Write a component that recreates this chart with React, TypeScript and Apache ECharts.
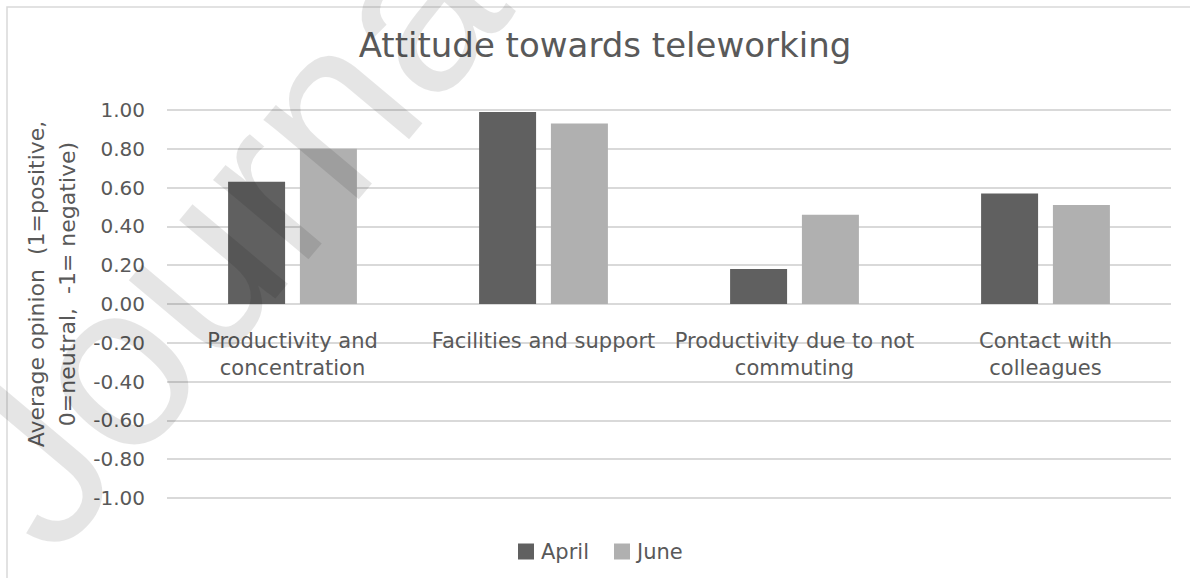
import React, { useEffect, useRef } from "react";
import * as echarts from "echarts";

const categories = [
  "Productivity and\nconcentration",
  "Facilities and support",
  "Productivity due to not\ncommuting",
  "Contact with\ncolleagues",
];
const seriesNames = ["April", "June"];
const aprilValues = [0.63, 0.99, 0.18, 0.57];
const juneValues = [0.8, 0.93, 0.46, 0.51];
const yMin = -1;
const yMax = 1;
const yStep = 0.2;
const titleText = "Attitude towards teleworking";
const yAxisTitle = "Average opinion  (1=positive,\n0=neutral,  -1= negative)";
const watermarkText = "Journal";

const FONT = "'DejaVu Sans', sans-serif";
const TEXT = "#595959";

export default function App() {
  const ref = useRef<HTMLDivElement>(null);
  useEffect(() => {
    if (!ref.current) return;
    const chart = echarts.init(ref.current, undefined, { renderer: "svg" });
    chart.setOption({
      animation: false,
      backgroundColor: "#ffffff",
      textStyle: { fontFamily: FONT },
      title: {
        text: titleText,
        left: 600,
        textAlign: "center",
        top: 23,
        textStyle: { fontFamily: FONT, fontSize: 34, fontWeight: "normal", color: TEXT },
      },
      legend: {
        data: seriesNames,
        bottom: 11,
        left: 513,
        icon: "rect",
        itemWidth: 16,
        itemHeight: 16,
        itemGap: 25,
        textStyle: { fontFamily: FONT, fontSize: 21, color: TEXT, padding: [0, 0, 0, 2] },
      },
      grid: { left: 167, right: 19, top: 110, bottom: 80, containLabel: false },
      xAxis: {
        type: "category",
        data: categories,
        axisLine: { show: false, onZero: false },
        axisTick: { show: false },
        axisLabel: {
          interval: 0,
          margin: -171,
          color: TEXT,
          fontFamily: FONT,
          fontSize: 21,
          lineHeight: 27,
          align: "center",
          verticalAlign: "top",
        },
      },
      yAxis: {
        type: "value",
        min: yMin,
        max: yMax,
        interval: yStep,
        axisLine: { show: false },
        axisTick: { show: false },
        splitLine: { lineStyle: { color: "#d9d9d9", width: 2 } },
        axisLabel: {
          margin: 22,
          color: TEXT,
          fontFamily: FONT,
          fontSize: 20,
          formatter: (v: number) => v.toFixed(2),
        },
      },
      series: [
        {
          name: seriesNames[0],
          type: "bar",
          data: aprilValues,
          barWidth: 57,
          barGap: "26%",
          itemStyle: { color: "#606060" },
        },
        {
          name: seriesNames[1],
          type: "bar",
          data: juneValues,
          barWidth: 57,
          barGap: "26%",
          itemStyle: { color: "#b0b0b0" },
        },
      ],
      graphic: [
        {
          type: "rect",
          shape: { x: 7, y: 7, width: 1300, height: 700 },
          style: { fill: "none", stroke: "#d9d9d9", lineWidth: 1.5 },
          silent: true,
          z: -10,
        },
        {
          type: "text",
          x: 52,
          y: 284,
          rotation: Math.PI / 2,
          style: {
            text: yAxisTitle,
            font: `22px ${FONT}`,
            fill: TEXT,
            textAlign: "center",
            textVerticalAlign: "middle",
            lineHeight: 31,
          },
          z: 10,
        },
        {
          type: "text",
          x: 82,
          y: 585,
          rotation: (50 * Math.PI) / 180,
          style: {
            text: watermarkText,
            font: `235px 'Liberation Sans', sans-serif`,
            fill: "rgba(0,0,0,0.1)",
            textAlign: "left",
            textVerticalAlign: "bottom",
          },
          silent: true,
          z: 100,
        },
      ],
    });
    return () => chart.dispose();
  }, []);
  return <div ref={ref} style={{ position: "fixed", left: 0, top: 0, width: 1190, height: 578 }} />;
}
